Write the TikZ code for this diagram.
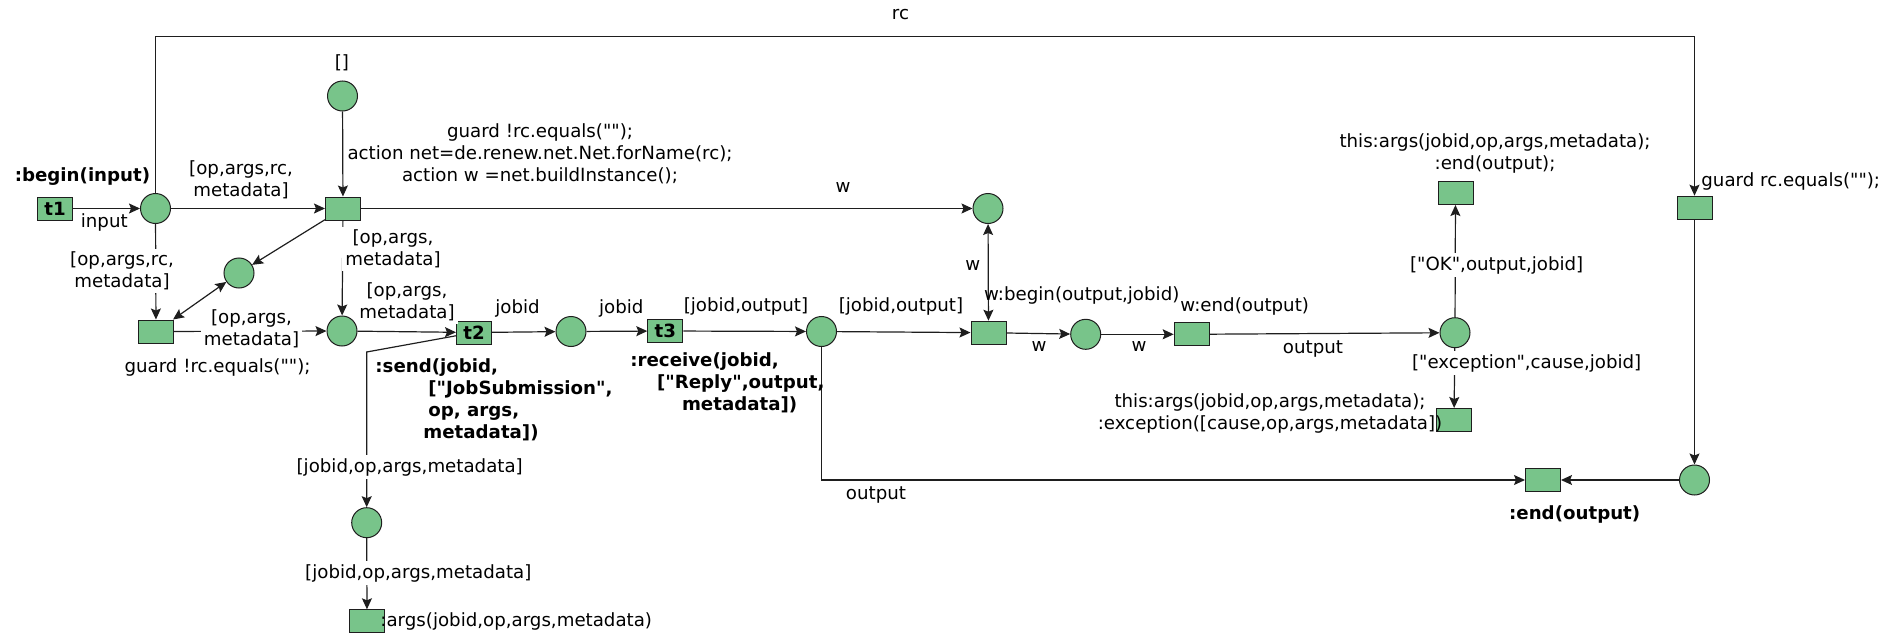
\documentclass[tikz,border=0pt]{standalone}
\usepackage{fontspec}
\setmainfont{DejaVu Sans}[Ligatures=TeXOff]
\usetikzlibrary{arrows.meta}
\definecolor{netgreen}{RGB}{120,196,138}
\definecolor{netline}{RGB}{30,30,30}

\begin{document}
\begin{tikzpicture}[x=0.5pt,y=-0.5pt,
  font=\fontsize{9.1}{11}\selectfont,
  netplace/.style={circle,draw=netline,fill=netgreen,line width=0.5pt,minimum size=15pt,inner sep=0pt},
  nettrans/.style={rectangle,draw=netline,fill=netgreen,line width=0.5pt,minimum width=17.5pt,minimum height=11.5pt,inner sep=0pt,font=\fontsize{9.1}{11}\selectfont\bfseries},
  tip/.tip={Stealth[length=5.5pt,width=5pt,inset=1pt]},
  flow/.style={draw=netline,line width=0.6pt,-tip},
  biflow/.style={draw=netline,line width=0.6pt,tip-tip},
  insc/.style={fill=white,inner sep=1.5pt,align=center},
  txt/.style={inner sep=0pt,align=center},
  btxt/.style={txt,font=\fontsize{9.1}{11}\selectfont\bfseries},
]
\useasboundingbox (0,0) rectangle (1903,637);

% places and transitions
\node[nettrans] (t1) at (55,208.5) {t1};
\node[netplace] (pB) at (155.5,208.5) {};
\node[netplace] (pEmpty) at (342.5,96) {};
\node[nettrans] (tBuild) at (343,208.5) {};
\node[netplace] (pSmall) at (239,273) {};
\node[nettrans] (tNeg) at (156,331.5) {};
\node[netplace] (p2) at (342,331) {};
\node[nettrans] (t2) at (474,332.5) {t2};
\node[netplace] (p3) at (571,331.5) {};
\node[nettrans] (t3) at (665.3,331) {t3};
\node[netplace] (p4) at (821.5,331.5) {};
\node[netplace] (pW) at (988,208.5) {};
\node[nettrans] (tBegin) at (988.5,332.7) {};
\node[netplace] (p5) at (1085.7,334.3) {};
\node[nettrans] (tEndW) at (1191.7,334.3) {};
\node[netplace] (p6) at (1455,332.7) {};
\node[nettrans] (tOK) at (1455.5,193) {};
\node[nettrans] (tExc) at (1454,420) {};
\node[nettrans] (tGuard) at (1694.5,207.7) {};
\node[netplace] (p7) at (1694.5,480) {};
\node[nettrans] (tEnd) at (1543,480) {};
\node[netplace] (p8) at (366.7,522.7) {};
\node[nettrans] (tArgs) at (367,621.3) {};

\coordinate (rcTop) at (900,36.7);
\coordinate (sendBend) at (366.7,352);

% arcs
\draw[flow] (t1) -- (pB);
\draw[flow] (pB) |- (rcTop) -| (tGuard);
\draw[flow] (pB) -- (tBuild);
\draw[flow] (pB) -- (tNeg);
\draw[flow] (pEmpty) -- (tBuild);
\draw[flow] (tBuild) -- (pW);
\draw[flow] (tBuild) -- (pSmall);
\draw[biflow] (pSmall) -- (tNeg);
\draw[flow] (tBuild) -- (p2);
\draw[flow] (tNeg) -- (p2);
\draw[flow] (p2) -- (t2);
\draw[flow] (t2) -- (p3);
\draw[flow] (p3) -- (t3);
\draw[flow] (t3) -- (p4);
\draw[flow] (p4) -- (tBegin);
\draw[biflow] (pW) -- (tBegin);
\draw[flow] (tBegin) -- (p5);
\draw[flow] (p5) -- (tEndW);
\draw[flow] (tEndW) -- (p6);
\draw[flow] (p6) -- (tOK);
\draw[flow] (p6) -- (tExc);
\draw[flow] (tGuard) -- (p7);
\draw[flow] (p7) -- (tEnd);
\draw[flow] (p4) |- (tEnd);
\draw[flow] (t2) -- (sendBend) -- (p8);
\draw[flow] (p8) -- (tArgs);

% arc inscriptions
\node[txt] (lRc) at (900.5,14.6) {rc};
\node[txt] (lInput) at (104.3,222.7) {input};
\node[insc] (lBuildIn) at (241,180) {[op,args,rc,\\metadata]};
\node[insc] (lNegIn) at (122,271) {[op,args,rc,\\metadata]};
\node[txt] (lEmpty) at (342,63) {[]};
\node[txt] (lW1) at (843,188) {w};
\node[insc] (lBuildOut) at (393,249) {[op,args,\\metadata]};
\node[insc] (lNegOut) at (251.5,329) {[op,args,\\metadata]};
\node[insc] (lP2Out) at (407,302) {[op,args,\\metadata]};
\node[txt] (lJob1) at (517.5,308.3) {jobid};
\node[txt] (lJob2) at (621.3,308.3) {jobid};
\node[txt] (lJO1) at (746,306.7) {[jobid,output]};
\node[txt] (lJO2) at (901,306.7) {[jobid,output]};
\node[insc] (lSend1) at (409.7,467.3) {[jobid,op,args,metadata]};
\node[insc] (lSend2) at (418.3,573.3) {[jobid,op,args,metadata]};
\node[txt] (lOut1) at (876,495) {output};
\node[txt] (lW2) at (972.7,265.7) {w};
\node[txt] (lW3) at (1039,346.7) {w};
\node[txt] (lW4) at (1139,346.7) {w};
\node[txt] (lOut2) at (1313,349.3) {output};
\node[insc] (lOK) at (1496.7,265) {["OK",output,jobid]};
\node[insc] (lExc) at (1526.7,363.3) {["exception",cause,jobid]};

% transition inscriptions
\node[btxt] (iT1) at (82.5,176.7) {:begin(input)};
\node[txt] (iBuild) at (540,154) {guard !rc.equals("");\\action net=de.renew.net.Net.forName(rc);\\action w =net.buildInstance();};
\node[txt] (iNeg) at (217.5,367) {guard !rc.equals("");};
\node[btxt,anchor=west,align=left] (iSend) at (375,400) {:send(jobid,\\\hspace*{26.5pt}["JobSubmission",\\\hspace*{26.5pt}op, args,\\\hspace*{24pt}metadata])};
\node[btxt,anchor=west,align=left] (iRecv) at (630,382.7) {:receive(jobid,\\\hspace*{13.3pt}["Reply",output,\\\hspace*{25.8pt}metadata])};
\node[txt,anchor=west] (iArgs) at (380,621.7) {:args(jobid,op,args,metadata)};
\node[txt] (iBegin) at (1081.7,295) {w:begin(output,jobid)};
\node[txt] (iEndW) at (1244.7,306.7) {w:end(output)};
\node[txt] (iOK) at (1495,153) {this:args(jobid,op,args,metadata);\\:end(output);};
\node[txt] (iExc) at (1270,413) {this:args(jobid,op,args,metadata);\\:exception([cause,op,args,metadata])};
\node[txt,anchor=west] (iGuard) at (1701,181.7) {guard rc.equals("");};
\node[btxt] (iEnd) at (1574.7,514.3) {:end(output)};
\end{tikzpicture}
\end{document}
